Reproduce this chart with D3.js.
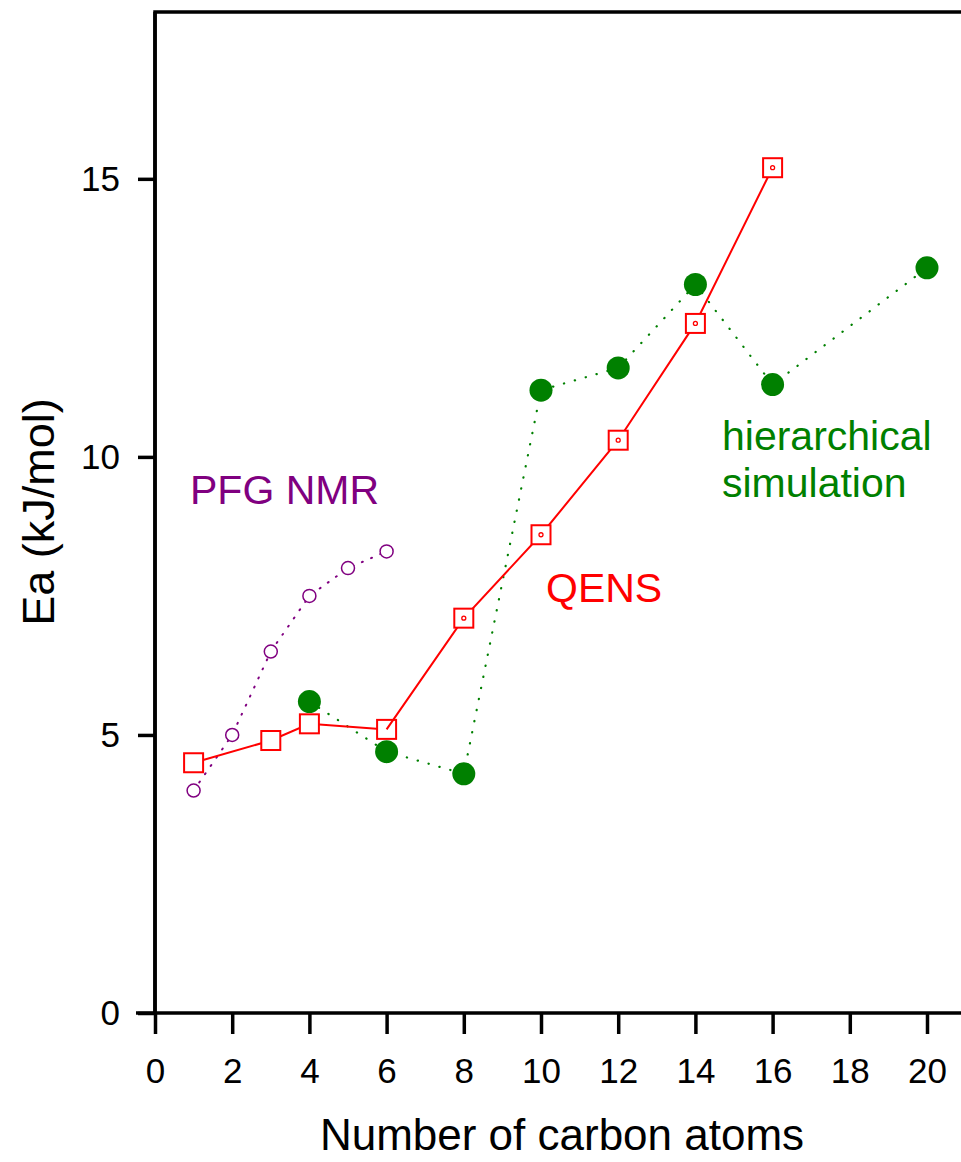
<!DOCTYPE html>
<html>
<head>
<meta charset="utf-8">
<script src="https://cdn.jsdelivr.net/npm/d3@7"></script>
<style>
  body { margin: 0; background: #fff; }
  svg { display: block; font-family: "Liberation Sans", Arial, sans-serif; }
</style>
</head>
<body>
<div id="chart"></div>
<script>
// carbon number vs activation energy
const pfgC = [1, 2, 3, 4, 5, 6];
const pfgEa = [4.0, 5.0, 6.5, 7.5, 8.0, 8.3];

const qensShortC = [1, 3, 4, 6];
const qensShortEa = [4.5, 4.9, 5.2, 5.1];
const qensLongC = [6, 8, 10, 12, 14, 16];
const qensLongEa = [5.1, 7.1, 8.6, 10.3, 12.4, 15.2];

const simC = [4, 6, 8, 10, 12, 14, 16, 20];
const simEa = [5.6, 4.7, 4.3, 11.2, 11.6, 13.1, 11.3, 13.4];

const xTicks = [0, 2, 4, 6, 8, 10, 12, 14, 16, 18, 20];
const yTicks = [0, 5, 10, 15];

const W = 961, H = 1162;
const margin = {top: 12, left: 155, bottom: 149};

const x = d3.scaleLinear().domain([0, 21]).range([margin.left, margin.left + 21 * 38.6]);
const y = d3.scaleLinear().domain([0, 18]).range([H - margin.bottom, margin.top]);

const svg = d3.select("#chart").append("svg")
    .attr("width", W)
    .attr("height", H);

const zip = (a, b) => a.map((v, i) => [v, b[i]]);
const line = d3.line().x(d => x(d[0])).y(d => y(d[1]));

// frame
svg.append("path")
    .attr("d", `M${x(0)},${y(0)}V${y(18)}H${x(21)}`)
    .attr("fill", "none")
    .attr("stroke", "#000")
    .attr("stroke-width", 3.5);

const xAxis = svg.append("g")
    .attr("transform", `translate(0,${y(0)})`)
    .call(d3.axisBottom(x).tickValues(xTicks).tickSize(21).tickPadding(24));
const yAxis = svg.append("g")
    .attr("transform", `translate(${x(0)},0)`)
    .call(d3.axisLeft(y).tickValues(yTicks).tickSize(17).tickPadding(18));

[xAxis, yAxis].forEach(g => {
  g.select(".domain").attr("stroke-width", 3.5).attr("d", g === xAxis
      ? `M${x(0) - 19},0H${x(21)}` : `M0,${y(0)}V${y(18)}`);
  g.selectAll(".tick line").attr("stroke-width", 3.5);
  g.selectAll(".tick text")
      .attr("font-family", "Liberation Sans, Arial, sans-serif")
      .attr("font-size", 35)
      .attr("fill", "#000");
});

svg.append("text")
    .attr("x", 562)
    .attr("y", 1150)
    .attr("text-anchor", "middle")
    .attr("font-size", 44)
    .text("Number of carbon atoms");

svg.append("text")
    .attr("transform", `translate(54,512) rotate(-90)`)
    .attr("text-anchor", "middle")
    .attr("font-size", 45)
    .text("Ea (kJ/mol)");

// PFG NMR
svg.append("path")
    .attr("d", line(zip(pfgC, pfgEa)))
    .attr("fill", "none")
    .attr("stroke", "#800080")
    .attr("stroke-width", 2)
    .attr("stroke-dasharray", "1 9")
    .attr("stroke-linecap", "round");
svg.selectAll(".pfg").data(zip(pfgC, pfgEa)).join("circle")
    .attr("class", "pfg")
    .attr("cx", d => x(d[0]))
    .attr("cy", d => y(d[1]))
    .attr("r", 6.5)
    .attr("fill", "#fff")
    .attr("stroke", "#800080")
    .attr("stroke-width", 1.5);

// hierarchical simulation
svg.append("path")
    .attr("d", line(zip(simC, simEa)))
    .attr("fill", "none")
    .attr("stroke", "#008000")
    .attr("stroke-width", 2.2)
    .attr("stroke-dasharray", "0.3 11")
    .attr("stroke-linecap", "round");
svg.selectAll(".sim").data(zip(simC, simEa)).join("circle")
    .attr("class", "sim")
    .attr("cx", d => x(d[0]))
    .attr("cy", d => y(d[1]))
    .attr("r", 11.5)
    .attr("fill", "#008000");

// QENS
const sq = 19;
svg.append("path")
    .attr("d", line(zip(qensShortC, qensShortEa)))
    .attr("fill", "none")
    .attr("stroke", "#ff0000")
    .attr("stroke-width", 2);
svg.selectAll(".qs").data(zip(qensShortC, qensShortEa)).join("rect")
    .attr("class", "qs")
    .attr("x", d => x(d[0]) - sq / 2)
    .attr("y", d => y(d[1]) - sq / 2)
    .attr("width", sq)
    .attr("height", sq)
    .attr("fill", "#fff")
    .attr("stroke", "#ff0000")
    .attr("stroke-width", 2);

svg.append("path")
    .attr("d", line(zip(qensLongC, qensLongEa)))
    .attr("fill", "none")
    .attr("stroke", "#ff0000")
    .attr("stroke-width", 2);
const ql = svg.selectAll(".ql").data(zip(qensLongC, qensLongEa).slice(1)).join("g")
    .attr("class", "ql")
    .attr("transform", d => `translate(${x(d[0])},${y(d[1])})`);
ql.append("rect")
    .attr("x", -sq / 2).attr("y", -sq / 2)
    .attr("width", sq).attr("height", sq)
    .attr("fill", "#fff")
    .attr("stroke", "#ff0000")
    .attr("stroke-width", 2);
ql.append("circle")
    .attr("r", 2)
    .attr("fill", "#fff")
    .attr("stroke", "#ff0000")
    .attr("stroke-width", 1.3);

// labels
const labels = [
  {t: "PFG NMR", x: 190, y: 504, c: "#800080"},
  {t: "QENS", x: 546, y: 602, c: "#ff0000"},
  {t: "hierarchical", x: 722, y: 450, c: "#008000"},
  {t: "simulation", x: 722, y: 497, c: "#008000"}
];
svg.selectAll(".lab").data(labels).join("text")
    .attr("class", "lab")
    .attr("x", d => d.x)
    .attr("y", d => d.y)
    .attr("fill", d => d.c)
    .attr("font-size", 41)
    .text(d => d.t);
</script>
</body>
</html>
